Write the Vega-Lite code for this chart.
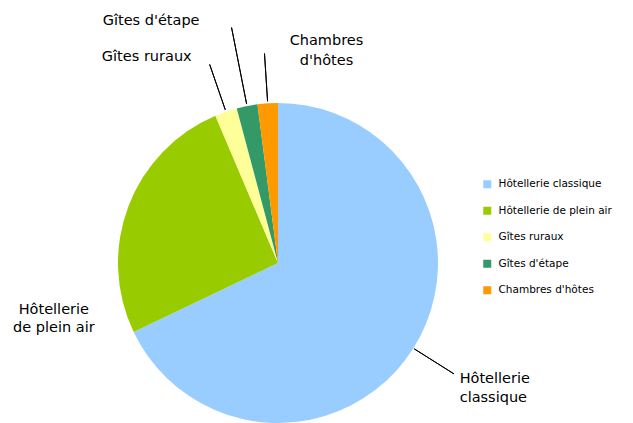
{
  "$schema": "https://vega.github.io/schema/vega-lite/v6.json",
  "width": 556,
  "height": 320,
  "autosize": {"type": "none"},
  "padding": {"left": 0, "top": 103, "right": 77, "bottom": 0},
  "background": "white",
  "config": {"font": "DejaVu Sans", "view": {"stroke": null}},
  "data": {
    "values": [
      {"cat": "Hôtellerie classique", "lbl": "Hôtellerie|classique", "value": 67.9},
      {"cat": "Hôtellerie de plein air", "lbl": "Hôtellerie|de plein air", "value": 25.7},
      {"cat": "Gîtes ruraux", "lbl": "Gîtes ruraux", "value": 2.25},
      {"cat": "Gîtes d'étape", "lbl": "Gîtes d'étape", "value": 2.1},
      {"cat": "Chambres d'hôtes", "lbl": "Chambres|d'hôtes", "value": 2.05}
    ]
  },
  "resolve": {"scale": {"theta": "independent"}},
  "layer": [
    {
      "mark": {"type": "arc"},
      "encoding": {
        "theta": {"field": "value", "type": "quantitative", "stack": true},
        "order": {"field": "value", "sort": "descending"},
        "color": {
          "field": "cat",
          "type": "nominal",
          "scale": {
            "domain": ["Hôtellerie classique", "Hôtellerie de plein air", "Gîtes ruraux", "Gîtes d'étape", "Chambres d'hôtes"],
            "range": ["#99CCFF", "#99CC00", "#FFFF99", "#339966", "#FF9900"]
          },
          "legend": {
            "orient": "none",
            "legendX": 482,
            "legendY": 76,
            "title": null,
            "symbolType": "square",
            "symbolSize": 64,
            "symbolStrokeWidth": 0,
            "labelFontSize": 10.5,
            "labelFont": "DejaVu Sans",
            "labelColor": "black",
            "rowPadding": 15.5,
            "labelOffset": 6,
            "padding": 0
          }
        }
      }
    },
    {
      "mark": {"type": "arc", "radius": 210, "radius2": 162, "padAngle": 3.14159, "fillOpacity": 0, "stroke": "black", "strokeWidth": 1},
      "encoding": {
        "theta": {"field": "value", "type": "quantitative", "stack": true},
        "order": {"field": "value", "sort": "descending"},
        "strokeOpacity": {"condition": {"test": "datum.cat === 'Gîtes ruraux' || datum.cat === \"Chambres d'hôtes\"", "value": 1}, "value": 0}
      }
    },
    {
      "mark": {"type": "arc", "radius": 240, "radius2": 162, "padAngle": 3.14159, "fillOpacity": 0, "stroke": "black", "strokeWidth": 1},
      "encoding": {
        "theta": {"field": "value", "type": "quantitative", "stack": true},
        "order": {"field": "value", "sort": "descending"},
        "strokeOpacity": {"condition": {"test": "datum.cat === \"Gîtes d'étape\"", "value": 1}, "value": 0}
      }
    },
    {
      "transform": [{"filter": "datum.cat === 'Hôtellerie classique'"}],
      "mark": {"type": "arc", "radius": 208, "radius2": 161, "fillOpacity": 0, "stroke": "black", "strokeWidth": 1},
      "encoding": {
        "theta": {"field": "value", "type": "quantitative", "stack": null, "scale": {"domain": [0, 200]}},
        "theta2": {"field": "value"}
      }
    },
    {
      "mark": {"type": "text", "radius": 210, "dx": 4, "dy": 4, "align": "left", "baseline": "middle", "fontSize": 14.5, "lineBreak": "|", "lineHeight": 19, "color": "black"},
      "encoding": {
        "theta": {"field": "value", "type": "quantitative", "stack": true},
        "order": {"field": "value", "sort": "descending"},
        "text": {"condition": {"test": "datum.cat === 'Hôtellerie classique'", "field": "lbl"}, "value": ""}
      }
    },
    {
      "mark": {"type": "text", "radius": 230, "dx": -9, "dy": 128, "align": "center", "baseline": "middle", "fontSize": 14.5, "lineBreak": "|", "lineHeight": 18, "color": "black"},
      "encoding": {
        "theta": {"field": "value", "type": "quantitative", "stack": true},
        "order": {"field": "value", "sort": "descending"},
        "text": {"condition": {"test": "datum.cat === 'Hôtellerie de plein air'", "field": "lbl"}, "value": ""}
      }
    },
    {
      "mark": {"type": "text", "radius": 210, "dx": -18, "dy": -7, "align": "right", "baseline": "middle", "fontSize": 14.5, "color": "black"},
      "encoding": {
        "theta": {"field": "value", "type": "quantitative", "stack": true},
        "order": {"field": "value", "sort": "descending"},
        "text": {"condition": {"test": "datum.cat === 'Gîtes ruraux'", "field": "lbl"}, "value": ""}
      }
    },
    {
      "mark": {"type": "text", "radius": 240, "dx": -32, "dy": -7, "align": "right", "baseline": "middle", "fontSize": 14.5, "color": "black"},
      "encoding": {
        "theta": {"field": "value", "type": "quantitative", "stack": true},
        "order": {"field": "value", "sort": "descending"},
        "text": {"condition": {"test": "datum.cat === \"Gîtes d'étape\"", "field": "lbl"}, "value": ""}
      }
    },
    {
      "mark": {"type": "text", "radius": 210, "dx": 62, "dy": -12, "align": "center", "baseline": "middle", "fontSize": 14.5, "lineBreak": "|", "lineHeight": 20, "color": "black"},
      "encoding": {
        "theta": {"field": "value", "type": "quantitative", "stack": true},
        "order": {"field": "value", "sort": "descending"},
        "text": {"condition": {"test": "datum.cat === \"Chambres d'hôtes\"", "field": "lbl"}, "value": ""}
      }
    }
  ]
}
